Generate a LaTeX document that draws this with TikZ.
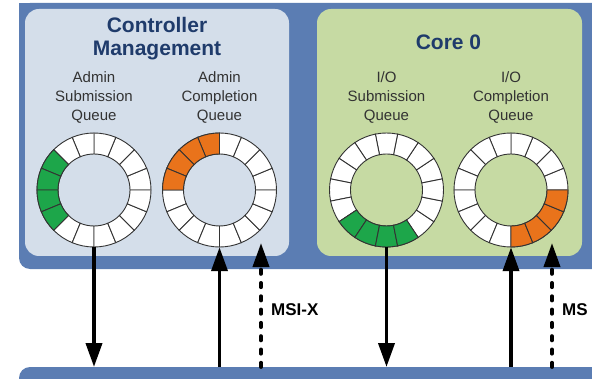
\documentclass[tikz,border=0pt]{standalone}
\usepackage{fontspec}
\setmainfont{Liberation Sans}
\usetikzlibrary{arrows.meta}
\definecolor{panelblue}{HTML}{5B7DB3}
\definecolor{mgmtblue}{HTML}{D4DEEA}
\definecolor{coregreen}{HTML}{C6DAA3}
\definecolor{titlenavy}{HTML}{1F3B6B}
\definecolor{slotgreen}{HTML}{1DA64A}
\definecolor{slotorange}{HTML}{E9731B}
\definecolor{slotline}{HTML}{333333}
\newcommand{\queuering}[4]{%
  \begin{scope}[shift={#1}]
    \foreach \i in {0,...,15}{
      \pgfmathsetmacro{\a}{#2+22.5*\i}
      \pgfmathsetmacro{\b}{\a+22.5}
      \filldraw[slot] (\a:57pt) arc[start angle=\a, end angle=\b, radius=57pt] -- (\b:36pt) arc[start angle=\b, end angle=\a, radius=36pt] -- cycle;
    }
    \foreach \i in {#3}{
      \pgfmathsetmacro{\a}{#2+22.5*\i}
      \pgfmathsetmacro{\b}{\a+22.5}
      \filldraw[slot, fill=#4] (\a:57pt) arc[start angle=\a, end angle=\b, radius=57pt] -- (\b:36pt) arc[start angle=\b, end angle=\a, radius=36pt] -- cycle;
    }
  \end{scope}}
\begin{document}
\begin{tikzpicture}[x=1pt, y=1pt,
  slot/.style={fill=white, draw=slotline, line width=0.9pt},
  ring/.style={circle, minimum size=114pt, inner sep=0pt},
  title/.style={align=center, text=titlenavy, font=\bfseries\fontsize{21}{23}\selectfont},
  qlabel/.style={align=center, text=black!80, font=\fontsize{15}{19}\selectfont},
  msg/.style={line width=3.8pt, -{Triangle[length=24pt, width=16pt]}},
  irq/.style={msg, line cap=round, dash pattern=on 4.3pt off 9pt},
  irqlabel/.style={anchor=west, inner sep=0pt, font=\bfseries\fontsize{17}{19}\selectfont}]

  \clip (0,0) rectangle (592,378);
  \fill[panelblue, rounded corners=11pt] (19,109) rectangle (620,375);
  \fill[panelblue] (19,200) rectangle (620,375);
  \fill[panelblue, rounded corners=11pt] (19,-20) rectangle (620,11);
  \coordinate (host) at (0,11);

  \fill[mgmtblue, rounded corners=14pt] (25,122) rectangle (289,369);
  \fill[coregreen, rounded corners=14pt] (317,122) rectangle (582,369);

  \node[title] (mgmt) at (157,339.5) {Controller\\Management};
  \node[title] (core) at (448.5,336) {Core 0};

  \node[qlabel] (asqlabel) at (94,281) {Admin\\Submission\\Queue};
  \node[qlabel] (acqlabel) at (219.5,281) {Admin\\Completion\\Queue};
  \node[qlabel] (iosqlabel) at (386.5,281) {I/O\\Submission\\Queue};
  \node[qlabel] (iocqlabel) at (511,281) {I/O\\Completion\\Queue};

  \node[ring] (asq) at (94,188) {};
  \node[ring] (acq) at (219.5,188) {};
  \node[ring] (iosq) at (386.5,188) {};
  \node[ring] (iocq) at (511,188) {};
  \queuering{(asq)}{0}{6,7,8,9}{slotgreen}
  \queuering{(acq)}{0}{4,5,6,7}{slotorange}
  \queuering{(iosq)}{11.25}{9,10,11,12}{slotgreen}
  \queuering{(iocq)}{0}{12,13,14,15}{slotorange}

  \coordinate (msi1) at (261,135);
  \coordinate (msi2) at (552,135);

  \draw[msg] (asq.south) -- (asq.south |- host);
  \draw[msg] (acq.south |- host) -- (acq.south);
  \draw[irq] (msi1 |- host) -- (msi1);
  \draw[msg] (iosq.south) -- (iosq.south |- host);
  \draw[msg] (iocq.south |- host) -- (iocq.south);
  \draw[irq] (msi2 |- host) -- (msi2);

  \node[irqlabel] (msix1) at (271,68) {MSI-X};
  \node[irqlabel] (msix2) at (562,68) {MS};
\end{tikzpicture}
\end{document}
